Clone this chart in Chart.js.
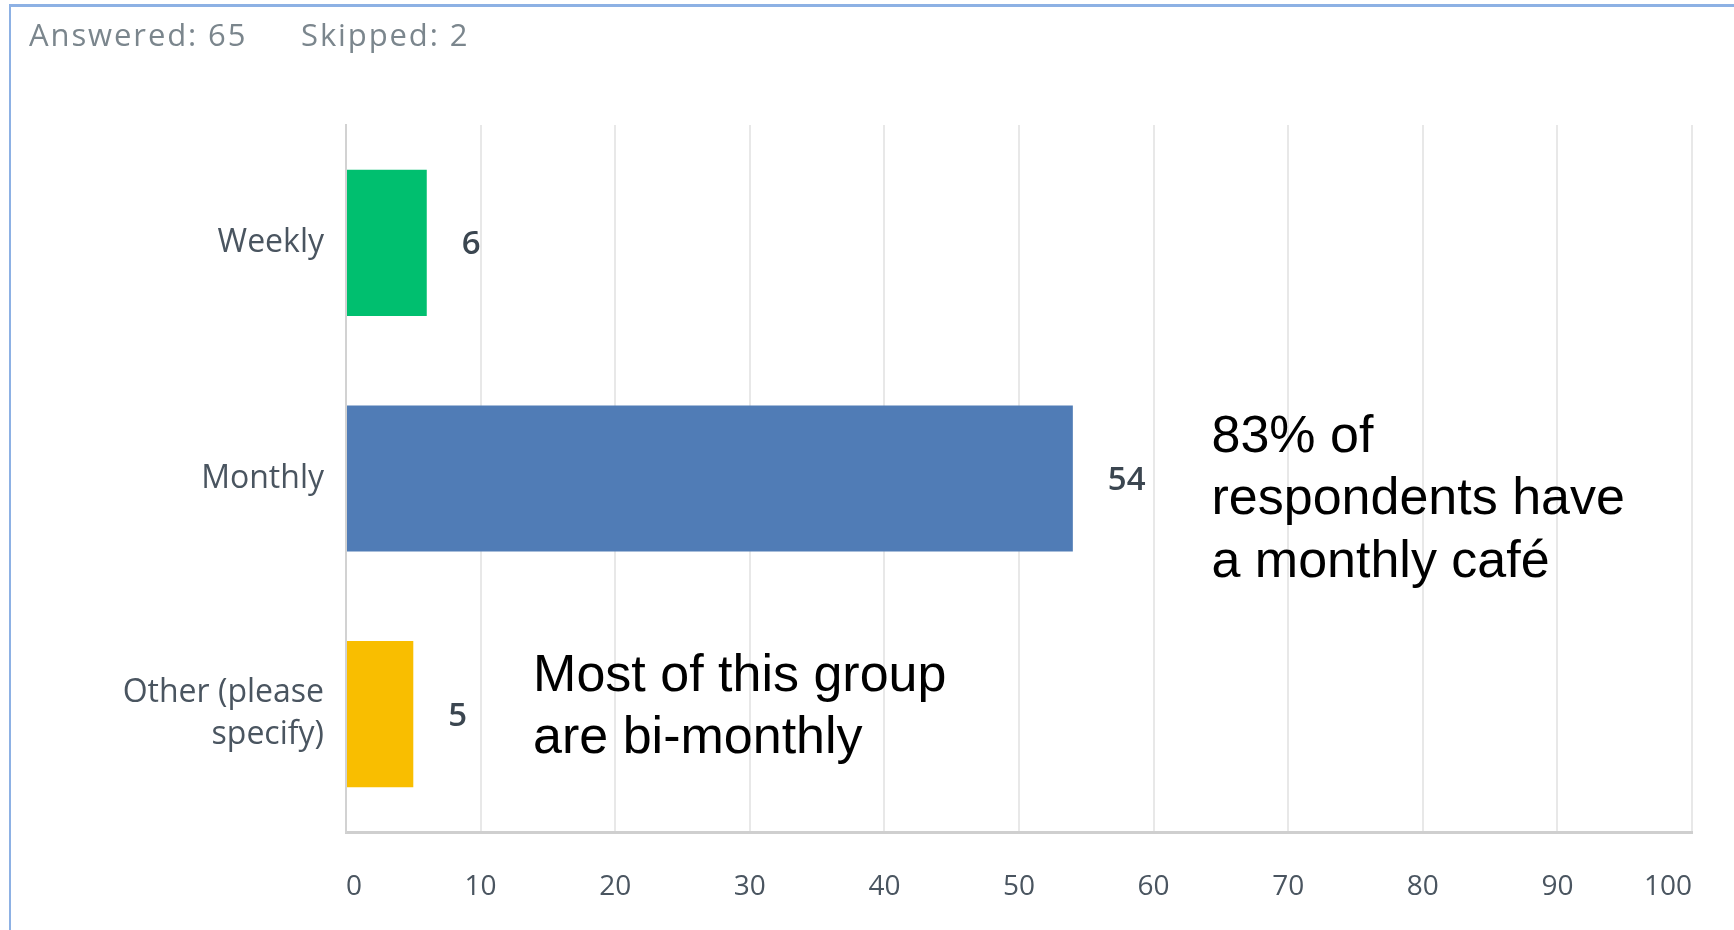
<!DOCTYPE html>
<html>
<head>
<meta charset="utf-8">
<script src="https://cdn.jsdelivr.net/npm/chart.js@4.4.0/dist/chart.umd.min.js"></script>
<style>
  html, body { margin: 0; padding: 0; background: #fff; overflow: hidden; }
  #frame {
    position: absolute; left: 9px; top: 4px; width: 1723px; height: 923px;
    border-top: 3px solid #8db1e4; border-left: 2px solid #8db1e4;
  }
  #header {
    position: absolute; left: 29px; top: 13px;
    font-family: "Open Sans", sans-serif; font-size: 31px; color: #7b868d;
    letter-spacing: 1.9px; white-space: nowrap;
  }
  #header span { position: absolute; top: 0; }
  #wrap { position: absolute; left: 0; top: 0; width: 1734px; height: 930px; }
</style>
</head>
<body>
<div id="frame"></div>
<div id="wrap"><canvas id="chart"></canvas></div>
<div id="header"><span style="left:0">Answered: 65</span><span style="left:272px">Skipped: 2</span></div>
<script>
// answer choices and counts
const categories = ["Weekly", "Monthly", ["Other (please", "specify)"]];
const counts = [6, 54, 5];
const barColors = ["#00bf6f", "#507cb6", "#f9be00"];
const xTicks = [0, 10, 20, 30, 40, 50, 60, 70, 80, 90, 100];

// callout texts pasted over the chart
const calloutMonthly = ["83% of", "respondents have", "a monthly café"];
const calloutOther = ["Most of this group", "are bi-monthly"];

/* number printed just right of each bar */
const valueLabels = {
  id: "valueLabels",
  afterDatasetsDraw(chart) {
    const ctx = chart.ctx;
    const meta = chart.getDatasetMeta(0);
    ctx.save();
    ctx.font = "600 33px 'Open Sans'";
    ctx.fillStyle = "#3b4650";
    ctx.textAlign = "left";
    ctx.textBaseline = "middle";
    meta.data.forEach((bar, i) => {
      ctx.fillText(String(counts[i]), bar.x + 35, bar.y + 2);
    });
    ctx.restore();
  },
};

/* the black notes, anchored to the scales */
const callouts = {
  id: "callouts",
  afterDraw(chart) {
    const ctx = chart.ctx;
    const x = chart.scales.x;
    const y = chart.scales.y;
    const lh = 62.5;
    ctx.save();
    ctx.font = "52px 'Liberation Sans', Arial, sans-serif";
    ctx.fillStyle = "#000";
    ctx.textAlign = "left";
    ctx.textBaseline = "middle";
    let top = y.getPixelForValue(1) - 41;
    calloutMonthly.forEach((t, i) => ctx.fillText(t, x.getPixelForValue(64.3), top + i * lh));
    top = y.getPixelForValue(2) - 38;
    calloutOther.forEach((t, i) => ctx.fillText(t, x.getPixelForValue(13.9), top + i * lh));
    ctx.restore();
  },
};

const config = {
  type: "bar",
  data: {
    labels: categories,
    datasets: [
      {
        data: counts,
        backgroundColor: barColors,
        borderWidth: 0,
        categoryPercentage: 1,
        barPercentage: 0.62,
      },
    ],
  },
  options: {
    indexAxis: "y",
    responsive: true,
    maintainAspectRatio: false,
    animation: false,
    layout: { padding: { top: 125, right: 42, left: 0, bottom: 0 } },
    plugins: { legend: { display: false }, tooltip: { enabled: false } },
    scales: {
      x: {
        min: 0,
        max: 100,
        afterBuildTicks: (scale) => {
          scale.ticks = xTicks.map((v) => ({ value: v }));
        },
        afterFit: (scale) => {
          scale.height = 98;
          scale.paddingLeft = 0;
          scale.paddingRight = 0;
        },
        grid: { color: "#e8e8e8", lineWidth: 2, drawTicks: false },
        border: { color: "#cfcfcf", width: 3 },
        ticks: {
          align: "inner",
          padding: 38,
          color: "#4a5560",
          font: { family: "Open Sans", size: 28 },
        },
      },
      y: {
        afterFit: (scale) => {
          scale.width = 346;
        },
        grid: { display: false, drawTicks: false },
        border: { color: "#d2d2d2", width: 2 },
        ticks: {
          padding: 22,
          color: "#4a5560",
          font: { family: "Open Sans", size: 32, lineHeight: 1.3 },
        },
      },
    },
  },
  plugins: [valueLabels, callouts],
};

new Chart(document.getElementById("chart").getContext("2d"), config);
</script>
</body>
</html>
